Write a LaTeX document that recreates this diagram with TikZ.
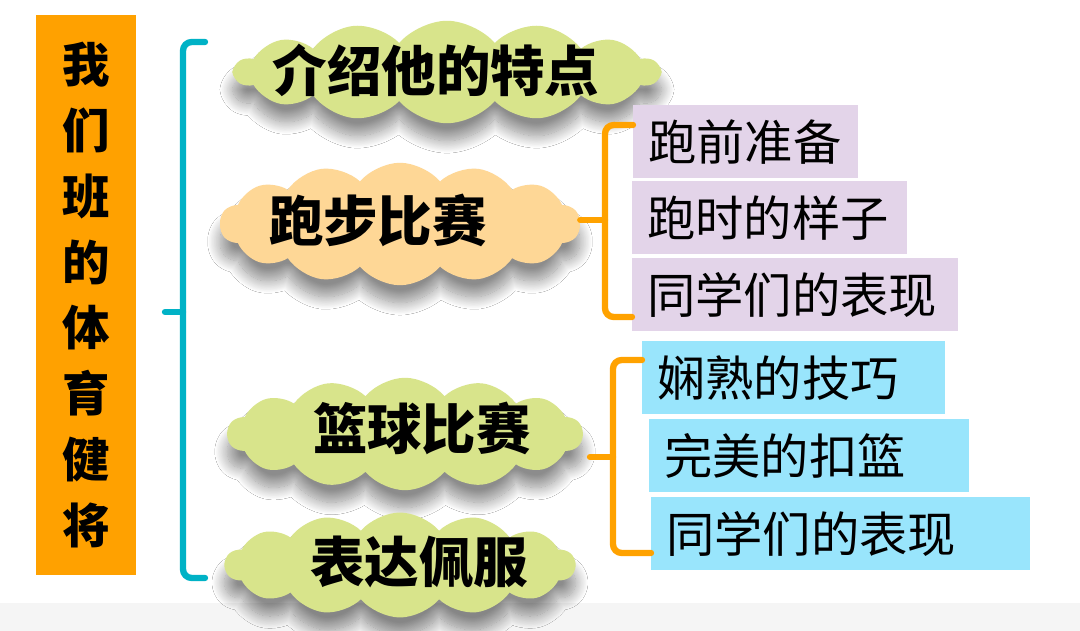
\documentclass[tikz,border=0pt]{standalone}
\usepackage{fontspec}
\setmainfont{Noto Sans CJK SC}
\newfontfamily\cjk{Noto Sans CJK SC}
\usetikzlibrary{shapes,positioning,shadows.blur}
\definecolor{titleorange}{HTML}{FFA100}
\definecolor{braceteal}{HTML}{00B2C6}
\definecolor{braceorange}{HTML}{FFA200}
\definecolor{cloudgreen}{HTML}{D8E48B}
\definecolor{cloudpeach}{HTML}{FED796}
\definecolor{boxlilac}{HTML}{E3D4E9}
\definecolor{boxcyan}{HTML}{99E5FC}
\definecolor{floorgray}{HTML}{F5F5F5}

\begin{document}
\begin{tikzpicture}[x=0.02cm, y=-0.02cm]
		\tikzset{cloudbox/.style={cloud, cloud puffs=14, cloud puff arc=100, fill=cloudgreen, inner sep=0pt,
				blur shadow={shadow xshift=0pt, shadow yshift=-10pt, shadow blur radius=7pt, shadow blur steps=20, shadow opacity=45}},
			cloudtext/.style={font=\cjk\bfseries\fontsize{31}{31}\selectfont, inner sep=0pt},
			itembox/.style={anchor=north west, minimum height=1.46cm, inner xsep=0.3cm, inner ysep=0pt,
				align=left, font=\cjk\fontsize{27.5}{27.5}\selectfont},
			brace/.style={line width=3.6pt, rounded corners=5pt, line cap=round}}
		\useasboundingbox (0,0) rectangle (1080,631);
		\fill[white] (0,0) rectangle (1080,631);
		\fill[floorgray] (0,603) rectangle (1080,631);
		% title
		\node[fill=titleorange, minimum width=2cm, minimum height=11.22cm, inner sep=0pt, align=center,
			font=\cjk\bfseries\fontsize{27}{37.5}\selectfont] (title) at (86,295)
			{我\\们\\班\\的\\体\\育\\健\\将};
		% clouds
		\node[cloudbox, minimum width=8.5cm, minimum height=2.05cm] (trait) at (447,72) {};
		\node[cloudtext] (trait text) at (436,70) {介绍他的特点};
		\node[cloudbox, fill=cloudpeach, minimum width=7.2cm, minimum height=2.45cm] (run) at (400,224) {};
		\node[cloudtext] (run text) at (378,220) {跑步比赛};
		\node[cloudbox, minimum width=7.1cm, minimum height=2.25cm] (ball) at (405,434) {};
		\node[cloudtext] (ball text) at (422,428) {篮球比赛};
		\node[cloudbox, minimum width=7.0cm, minimum height=2.1cm] (praise) at (400,565) {};
		\node[cloudtext] (praise text) at (419,562) {表达佩服};
		% items
		\node[itembox, fill=boxlilac, text width=3.9cm] (run a) at (633,105) {跑前准备};
		\node[itembox, fill=boxlilac, text width=4.9cm] (run b) at (632,181) {跑时的样子};
		\node[itembox, fill=boxlilac, text width=5.92cm] (run c) at (632,258) {同学们的表现};
		\node[itembox, fill=boxcyan, text width=5.46cm] (ball a) at (642,341) {娴熟的技巧};
		\node[itembox, fill=boxcyan, text width=5.8cm] (ball b) at (649,419) {完美的扣篮};
		\node[itembox, fill=boxcyan, text width=6.98cm] (ball c) at (651,497) {同学们的表现};
		% braces
		\coordinate (tb mid) at (165,312);
		\draw[brace, braceteal] (205,42) -- (183,42) -- (183,578) -- (205,578);
		\draw[brace, braceteal] (183,312) -- (tb mid);
		\draw[brace, braceorange] (run a.west |- 0,125) -- (605,125) -- (605,317) -- (run c.west |- 0,317);
		\draw[brace, braceorange] (605,220) -- (run.east |- 0,220);
		\draw[brace, braceorange] (ball a.west |- 0,360) -- (613,360) -- (613,553) -- (ball c.west |- 0,553);
		\draw[brace, braceorange] (613,457) -- (590,457);
	\end{tikzpicture}
\end{document}
